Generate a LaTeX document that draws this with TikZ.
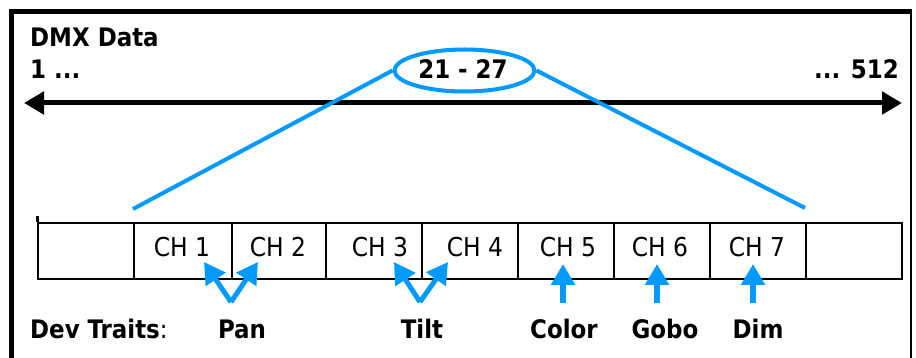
\documentclass[tikz,border=0pt]{standalone}
\usepackage{fontspec}
\setmainfont{DejaVu Sans Condensed}
\usetikzlibrary{arrows.meta,shapes.geometric}
\definecolor{dmxblue}{RGB}{0,153,255}
\begin{document}
\begin{tikzpicture}[x=1pt,y=-1pt,
  cell/.style={draw,line width=1.8pt,minimum height=56pt,inner sep=0pt,anchor=north west},
  boldtxt/.style={font=\bfseries\fontsize{25.5}{28}\selectfont,inner sep=0pt},
  chtxt/.style={font=\fontsize{26}{28}\selectfont,inner sep=0pt,anchor=base},
  bluearrow/.style={draw=dmxblue,line width=5pt,-{Triangle[length=21pt,width=23pt]},dmxblue},
  blueline/.style={draw=dmxblue,line width=4pt}]
\useasboundingbox (0,0) rectangle (916,358);
% frame
\draw[line width=5pt] (11,358) -- (11,12) -- (912,12);
\draw[line width=2pt] (911,12) -- (911,358);
% titles
\node[boldtxt,anchor=base west] (title) at (30,47) {DMX Data};
\node[boldtxt,anchor=base west] (first) at (30,79) {1 ...};
\node[boldtxt,anchor=base] (range) at (463,79) {21 - 27};
\node[boldtxt,anchor=base east] (last) at (899,79) {... 512};
% long arrow
\coordinate (aL) at (24,103);
\coordinate (aR) at (902,103);
\draw[line width=5pt,{Triangle[length=20pt,width=22pt]}-{Triangle[length=20pt,width=22pt]}] (aL) -- (aR);
% ellipse
\node[ellipse,blueline,minimum width=140pt,minimum height=42pt] (ell) at (464.5,70.5) {};
\coordinate (fl) at (133,209);
\coordinate (fr) at (805,208);
\draw[blueline] (ell.west) -- (fl);
\draw[blueline] (ell.east) -- (fr);
% strip
\node[cell,minimum width=96pt] (c0) at (37,222) {};
\node[cell,minimum width=98pt] (c1) at (133,222) {};
\node[cell,minimum width=94pt] (c2) at (231,222) {};
\node[cell,minimum width=96pt] (c3) at (325,222) {};
\node[cell,minimum width=96pt] (c4) at (421,222) {};
\node[cell,minimum width=96pt] (c5) at (517,222) {};
\node[cell,minimum width=96pt] (c6) at (613,222) {};
\node[cell,minimum width=96pt] (c7) at (709,222) {};
\node[cell,minimum width=96pt] (c8) at (805,222) {};
\fill (35.5,216) rectangle (38.5,222);
% labels
\node[chtxt] (l1) at (182,257) {CH 1};
\node[chtxt] (l2) at (278,257) {CH 2};
\node[chtxt] (l3) at (380,257) {CH 3};
\node[chtxt] (l4) at (475,257) {CH 4};
\node[chtxt] (l5) at (568,257) {CH 5};
\node[chtxt] (l6) at (660,257) {CH 6};
\node[chtxt] (l7) at (757,257) {CH 7};
% arrows
\coordinate (pv) at (231,302);
\coordinate (p1) at (204,262);
\coordinate (p2) at (258,262);
\draw[bluearrow] (pv) -- (p1);
\draw[bluearrow] (pv) -- (p2);
\coordinate (tv) at (420,302);
\coordinate (t1) at (394,262);
\coordinate (t2) at (448,262);
\draw[bluearrow] (tv) -- (t1);
\draw[bluearrow] (tv) -- (t2);
\coordinate (cb) at (563,303);
\coordinate (ct) at (563,264);
\draw[bluearrow,line width=6.5pt] (cb) -- (ct);
\coordinate (gb) at (657,303);
\coordinate (gt) at (657,264);
\draw[bluearrow,line width=6.5pt] (gb) -- (gt);
\coordinate (db) at (753,303);
\coordinate (dt) at (753,264);
\draw[bluearrow,line width=6.5pt] (db) -- (dt);
% traits
\node[boldtxt,anchor=base west] (dev) at (30,338) {Dev Traits\mdseries:};
\node[boldtxt,anchor=base] (pan) at (242,338) {Pan};
\node[boldtxt,anchor=base] (tilt) at (422,338) {Tilt};
\node[boldtxt,anchor=base] (color) at (564,338) {Color};
\node[boldtxt,anchor=base] (gobo) at (665,338) {Gobo};
\node[boldtxt,anchor=base] (dim) at (758,338) {Dim};
\end{tikzpicture}
\end{document}
